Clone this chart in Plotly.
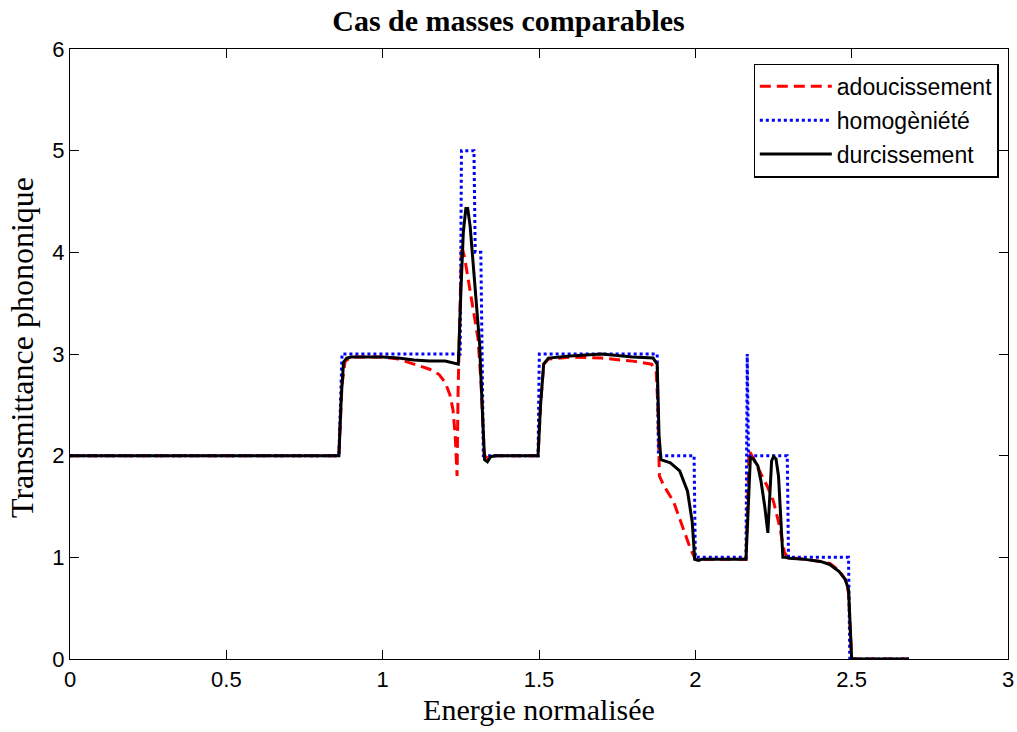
import plotly.graph_objects as go

# homogeneite (blue dotted) - step-like
x_homo = [0, 0.86, 0.87, 1.248, 1.252, 1.292, 1.296, 1.314, 1.322, 1.497, 1.501, 1.878, 1.882, 1.996, 2.0, 2.162, 2.166, 2.17, 2.174, 2.294, 2.298, 2.49, 2.494, 2.683]
y_homo = [2, 2, 3, 3, 5, 5, 4, 4, 2, 2, 3, 3, 2, 2, 1, 1, 3, 2, 2, 2, 1, 1, 0, 0]

# adoucissement (red dashed)
x_adou = [0, 0.86, 0.87, 0.88, 0.9, 1.0, 1.05, 1.1, 1.15, 1.18, 1.2, 1.215, 1.225, 1.232, 1.238, 1.241, 1.252, 1.262, 1.275, 1.29, 1.305, 1.315, 1.325, 1.335, 1.36, 1.497, 1.505, 1.515, 1.53, 1.6, 1.7, 1.8, 1.86, 1.875, 1.88, 1.885, 1.9, 1.93, 1.96, 1.985, 2.0, 2.1, 2.162, 2.172, 2.19, 2.21, 2.23, 2.25, 2.27, 2.285, 2.295, 2.35, 2.4, 2.43, 2.46, 2.48, 2.49, 2.5, 2.683]
y_adou = [2, 2, 2.7, 2.93, 2.97, 2.97, 2.95, 2.9, 2.85, 2.8, 2.72, 2.6, 2.45, 2.2, 1.8, 2.6, 4.07, 3.95, 3.7, 3.45, 3.15, 2.7, 2.0, 1.98, 2.0, 2.0, 2.5, 2.9, 2.95, 2.97, 2.96, 2.93, 2.9, 2.82, 2.5, 1.8, 1.7, 1.55, 1.3, 1.08, 0.98, 0.98, 0.98, 2.05, 1.95, 1.82, 1.7, 1.55, 1.3, 1.05, 1.0, 0.98, 0.96, 0.94, 0.87, 0.78, 0.65, 0.0, 0.0]

# durcissement (black solid)
x_durc = [0, 0.86, 0.868, 0.875, 0.885, 0.9, 1.0, 1.05, 1.1, 1.15, 1.2, 1.235, 1.242, 1.25, 1.258, 1.266, 1.272, 1.28, 1.29, 1.3, 1.31, 1.318, 1.326, 1.335, 1.345, 1.36, 1.497, 1.505, 1.515, 1.53, 1.6, 1.7, 1.8, 1.865, 1.878, 1.884, 1.89, 1.92, 1.95, 1.975, 1.99, 1.998, 2.01, 2.02, 2.1, 2.162, 2.168, 2.176, 2.185, 2.2, 2.21, 2.222, 2.232, 2.238, 2.244, 2.25, 2.258, 2.266, 2.273, 2.28, 2.288, 2.3, 2.35, 2.4, 2.43, 2.46, 2.48, 2.49, 2.5, 2.683]
y_durc = [2, 2, 2.6, 2.92, 2.96, 2.97, 2.97, 2.96, 2.94, 2.93, 2.93, 2.9, 2.9, 3.6, 4.2, 4.43, 4.43, 4.25, 3.85, 3.45, 3.1, 2.5, 1.96, 1.94, 1.99, 2.0, 2.0, 2.5, 2.9, 2.96, 2.98, 3.0, 2.97, 2.96, 2.9, 2.2, 1.96, 1.93, 1.85, 1.65, 1.35, 0.98, 0.97, 0.98, 0.98, 0.98, 1.4, 1.98, 1.97, 1.9, 1.75, 1.5, 1.24, 1.6, 1.95, 1.99, 1.97, 1.8, 1.4, 1.0, 1.0, 0.99, 0.98, 0.96, 0.93, 0.86, 0.78, 0.68, 0.0, 0.0]

x_ticks = [0, 0.5, 1, 1.5, 2, 2.5, 3]
x_labels = ["0", "0.5", "1", "1.5", "2", "2.5", "3"]
y_ticks = [0, 1, 2, 3, 4, 5, 6]

fig = go.Figure()
fig.add_trace(go.Scatter(x=x_adou, y=y_adou, mode="lines", name="adoucissement", legendgroup="a",
                         line=dict(color="#ff0000", width=3, dash="11px,6px")))
fig.add_trace(go.Scatter(x=x_homo, y=y_homo, mode="lines", name="homogèniété", legendgroup="b",
                         line=dict(color="#0000ff", width=3, dash="3px,3px")))
fig.add_trace(go.Scatter(x=x_durc, y=y_durc, mode="lines", name="durcissement", legendgroup="c",
                         line=dict(color="#000000", width=3, dash="solid")))

serif = "Liberation Serif, Times New Roman, serif"
sans = "Liberation Sans, Arial, sans-serif"

axis_common = dict(showgrid=False, zeroline=False, showline=True, linecolor="black",
                   linewidth=1.2, mirror="ticks", ticks="inside", ticklen=9,
                   tickcolor="black", tickfont=dict(family=sans, size=22, color="black"),
                   ticklabeloverflow="allow")

fig.update_layout(
    width=1017, height=732,
    paper_bgcolor="white", plot_bgcolor="white",
    margin=dict(l=70, r=3, t=49, b=73),
    title=dict(text="<b>Cas de masses comparables</b>", x=0.5, xanchor="center", y=0.986, yanchor="top",
               font=dict(family=serif, size=30, color="black")),
    xaxis=dict(range=[0, 3], tickvals=x_ticks, ticktext=x_labels,
               title=dict(text="Energie normalisée", standoff=8,
                          font=dict(family=serif, size=30, color="black")),
               **axis_common),
    yaxis=dict(range=[0, 6], tickvals=y_ticks, **axis_common),
    annotations=[dict(text="Transmittance phononique", textangle=-90, showarrow=False,
                      xref="paper", yref="paper", x=0, y=0.5, xanchor="center", yanchor="middle",
                      xshift=-48, yshift=6,
                      font=dict(family=serif, size=32, color="black"))],
    legend=dict(x=0.990, xanchor="right", y=0.976, yanchor="top",
                bgcolor="white", bordercolor="black", borderwidth=1.2,
                font=dict(family=sans, size=23, color="black"),
                traceorder="grouped", tracegroupgap=1, itemwidth=72),
    showlegend=True,
)

fig.write_html("out.html", config={"displayModeBar": False},
               post_script="document.body.style.margin='0';document.body.style.overflow='hidden';")
